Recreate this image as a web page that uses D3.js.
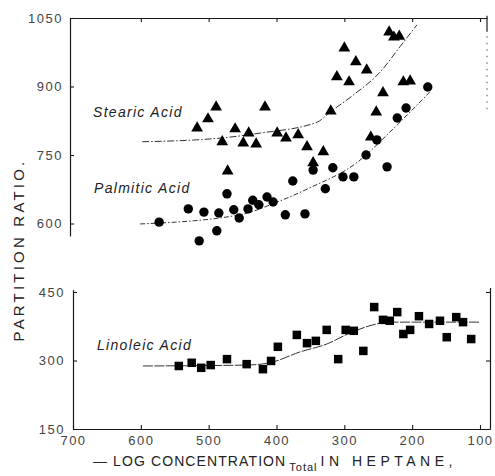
<!DOCTYPE html>
<html>
<head>
<meta charset="utf-8">
<script src="https://cdn.jsdelivr.net/npm/d3@7"></script>
<style>
  html, body { margin: 0; padding: 0; background: #fff; }
  svg { display: block; }
  .tick text { font-family: "Liberation Sans", Arial, sans-serif; font-size: 13px; letter-spacing: 1.5px; fill: #444; }
  .label { font-family: "Liberation Sans", Arial, sans-serif; font-style: italic; font-size: 14px; letter-spacing: 1.3px; fill: #222; }
  .title { font-family: "Liberation Sans", Arial, sans-serif; font-size: 14px; letter-spacing: 1.5px; fill: #222; }
</style>
</head>
<body>
<svg id="chart" width="495" height="476"></svg>
<script>
// Stearic acid partition ratios: [-log concentration, ratio]
const stearic = [
  [517, 809], [501, 829], [489, 855], [480, 779], [461, 807], [449, 776],
  [441, 798], [472, 715], [430, 774], [417, 855], [399, 798], [386, 787],
  [368, 794], [355, 768], [331, 757], [346, 733], [320, 846], [311, 921],
  [300, 984], [293, 910], [283, 954], [267, 936], [261, 789], [253, 844],
  [243, 886], [234, 1019], [227, 1008], [219, 1010], [213, 910], [203, 912]
];

// Palmitic acid partition ratios
const palmitic = [
  [573, 603], [530, 632], [514, 562], [507, 625], [488, 584], [485, 623],
  [473, 665], [463, 630], [455, 612], [442, 632], [435, 651], [426, 641],
  [414, 658], [405, 647], [387, 619], [376, 693], [358, 621], [346, 717],
  [328, 676], [317, 722], [302, 702], [286, 702], [268, 750], [252, 783],
  [237, 724], [222, 831], [209, 853], [177, 899]
];

// Linoleic acid partition ratios
const linoleic = [
  [544, 288], [525, 295], [511, 284], [497, 290], [473, 303], [444, 292],
  [420, 281], [408, 299], [398, 330], [370, 356], [355, 338], [342, 343],
  [326, 367], [309, 303], [298, 367], [286, 365], [272, 321], [256, 417],
  [243, 389], [233, 387], [222, 406], [213, 358], [203, 367], [190, 397],
  [175, 380], [159, 387], [149, 351], [135, 395], [125, 384], [113, 347]
];

// Fitted trend curves
const stearicFit = [
  [598, 779], [483, 787], [424, 798], [340, 822], [321, 844],
  [287, 881], [247, 932], [218, 987], [193, 1035]
];
const palmiticFit = [
  [601, 599], [454, 619], [399, 647], [351, 678], [280, 735], [233, 800], [174, 888]
];
const linoleicFit = [
  [597, 288], [444, 290], [410, 295], [365, 319], [326, 336],
  [292, 360], [258, 378], [233, 384], [100, 384]
];

const xTicks = [700, 600, 500, 400, 300, 200, 100];
const yTicksTop = [600, 750, 900, 1050];
const yTicksBottom = [150, 300, 450];

const svg = d3.select("#chart");
svg.append("rect").attr("width", 495).attr("height", 476).attr("fill", "#fff");

const x = d3.scaleLinear().domain([700, 100]).range([73, 480]);
const y = d3.scaleLinear().domain([150, 1050]).range([429, 18]);

const ink = "#1a1a1a";
const plain = d3.format("d");

function styleAxis(g) {
  g.select(".domain").attr("stroke", ink).attr("stroke-width", 1.2);
  g.selectAll(".tick line").attr("stroke", ink).attr("stroke-width", 1.1);
}

// ---- upper panel frame ----
const xFrameTop = x.copy().domain([x.invert(70), x.invert(487)]).range([70, 487]);
svg.append("g")
  .attr("transform", `translate(0,${y(1050)})`)
  .call(d3.axisTop(xFrameTop).tickValues(xTicks.slice(1)).tickSizeInner(-4).tickSizeOuter(0).tickFormat(""))
  .call(styleAxis);

const yTop = y.copy().domain([y.invert(236), 1050]).range([236, y(1050)]);
svg.append("g")
  .attr("transform", "translate(70,0)")
  .call(d3.axisLeft(yTop).tickValues(yTicksTop).tickFormat(plain).tickSizeInner(-4).tickSizeOuter(0).tickPadding(7))
  .call(styleAxis);

// right edge of upper panel: short solid stub, then faint dotted run
svg.append("line")
  .attr("x1", 487).attr("x2", 487).attr("y1", y(1055)).attr("y2", y(1020))
  .attr("stroke", ink).attr("stroke-width", 1.2);
svg.append("line")
  .attr("x1", 487).attr("x2", 487).attr("y1", y(1010)).attr("y2", y(850))
  .attr("stroke", "#555").attr("stroke-width", 1).attr("stroke-dasharray", "1.5,5");

// ---- lower panel frame ----
const yBot = y.copy().domain([150, 455]).range([y(150), y(455)]);
svg.append("g")
  .attr("transform", "translate(73,0)")
  .call(d3.axisLeft(yBot).tickValues(yTicksBottom).tickFormat(plain).tickSizeInner(-4).tickSizeOuter(0).tickPadding(8))
  .call(styleAxis);

const xBot = x.copy().domain([700, x.invert(490)]).range([73, 490]);
svg.append("g")
  .attr("transform", `translate(0,${y(150)})`)
  .call(d3.axisBottom(xBot).tickValues(xTicks).tickFormat(plain).tickSizeInner(-4).tickSizeOuter(0).tickPadding(7))
  .call(styleAxis);

const yRight = y.copy().domain([150, 460]).range([y(150), y(460)]);
svg.append("g")
  .attr("transform", "translate(490,0)")
  .call(d3.axisRight(yRight).tickValues([300, 450]).tickSizeInner(-4).tickSizeOuter(0).tickFormat(""))
  .call(styleAxis);

// ---- fitted curves ----
const line = d3.line()
  .x(d => x(d[0]))
  .y(d => y(d[1]))
  .curve(d3.curveMonotoneX);

const curves = [
  { data: stearicFit, dash: "7,2,1.5,2" },
  { data: palmiticFit, dash: "5,2,1.5,2" },
  { data: linoleicFit, dash: "10,1.5" }
];
svg.append("g").selectAll("path")
  .data(curves)
  .join("path")
  .attr("d", d => line(d.data))
  .attr("fill", "none")
  .attr("stroke", "#333")
  .attr("stroke-width", 1)
  .attr("stroke-dasharray", d => d.dash);

// ---- data points ----
const tri = d3.symbol().type(d3.symbolTriangle).size(60);
svg.append("g").selectAll("path")
  .data(stearic)
  .join("path")
  .attr("transform", d => `translate(${x(d[0])},${y(d[1])})`)
  .attr("d", tri)
  .attr("fill", "#000");

svg.append("g").selectAll("circle")
  .data(palmitic)
  .join("circle")
  .attr("cx", d => x(d[0]))
  .attr("cy", d => y(d[1]))
  .attr("r", 4.7)
  .attr("fill", "#000");

const sq = 8.5;
svg.append("g").selectAll("rect")
  .data(linoleic)
  .join("rect")
  .attr("x", d => x(d[0]) - sq / 2)
  .attr("y", d => y(d[1]) - sq / 2)
  .attr("width", sq)
  .attr("height", sq)
  .attr("fill", "#000");

// ---- series labels ----
svg.append("text").attr("class", "label").attr("x", 93).attr("y", 117).text("Stearic Acid");
svg.append("text").attr("class", "label").attr("x", 94).attr("y", 193).text("Palmitic Acid");
svg.append("text").attr("class", "label").attr("x", 97).attr("y", 350).text("Linoleic Acid");

// ---- axis titles ----
svg.append("text")
  .attr("class", "title")
  .attr("transform", "translate(24,250) rotate(-90)")
  .attr("text-anchor", "middle")
  .style("font-size", "15px")
  .style("letter-spacing", "3.2px")
  .text("PARTITION RATIO.");

const xt = svg.append("text").attr("class", "title").attr("x", 93).attr("y", 466);
xt.append("tspan").style("letter-spacing", "1.1px").text("— LOG CONCENTRATION");
xt.append("tspan").attr("dy", 5).attr("dx", 3).style("font-size", "11px").style("letter-spacing", "1px").text("Total");
xt.append("tspan").attr("dy", -5).attr("dx", 3).style("letter-spacing", "4.5px").text("IN HEPTANE,");
</script>
</body>
</html>
